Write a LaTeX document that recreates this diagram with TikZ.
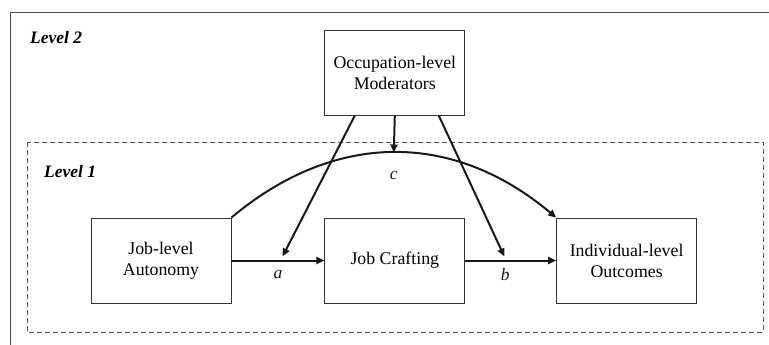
\documentclass[tikz,border=0pt]{standalone}
\usepackage{fontspec}
\setmainfont{Liberation Serif}
\usetikzlibrary{arrows.meta,positioning,calc}

\begin{document}
\begin{tikzpicture}[x=1pt, y=-1pt,
  box/.style={draw=black!80, line width=.8pt, minimum width=140pt,
              minimum height=85pt, align=center, inner sep=0pt,
              font=\fontsize{17.8}{21}\selectfont},
  link/.style={-{Triangle[length=8pt, width=7pt]}, line width=2pt, black!90},
  level/.style={anchor=west, inner sep=0pt,
                font=\fontsize{17.5}{21}\selectfont\bfseries\itshape},
  coef/.style={font=\fontsize{17.5}{21}\selectfont\itshape},
  frame/.style={draw=black!70, line width=.8pt},
  group/.style={draw=black!65, line width=.7pt, dash pattern=on 5pt off 3pt}
]
\useasboundingbox (0,0) rectangle (769,345);
\draw[frame] (769,12) -| (10,345);
\draw[group] (27,142) rectangle (763,332);
\node[level] (lvtwo) at (30,38) {Level 2};
\node[level] (lvone) at (44,172) {Level 1};

\node[box] (autonomy) at (161,260.5) {Job-level\\Autonomy};
\node[box, right=93pt of autonomy] (crafting) {Job Crafting};
\node[box, right=91pt of crafting] (outcomes) {Individual-level\\Outcomes};
\node[box, above=102pt of crafting] (moderators) {Occupation-level\\Moderators};

\draw[link] (autonomy) -- node[coef, below=5pt] {a} (crafting);
\draw[link] (crafting) -- node[coef, below=4pt, pos=.44] {b} (outcomes);
\draw[link] (autonomy.north east) .. controls +(-40:135) and +(-140:135) ..
  coordinate[pos=.5] (apex) node[coef, pos=.5, below=14pt] {c}
  (outcomes.north west);

\coordinate (ta) at ([yshift=4pt]$(autonomy.east)!.55!(crafting.west)$);
\coordinate (tb) at ([yshift=4pt]$(crafting.east)!.43!(outcomes.west)$);
\draw[link] ([xshift=-40pt]moderators.south) -- (ta);
\draw[link] (moderators.south) -- (apex);
\draw[link] ([xshift=44pt]moderators.south) -- (tb);
\end{tikzpicture}
\end{document}
